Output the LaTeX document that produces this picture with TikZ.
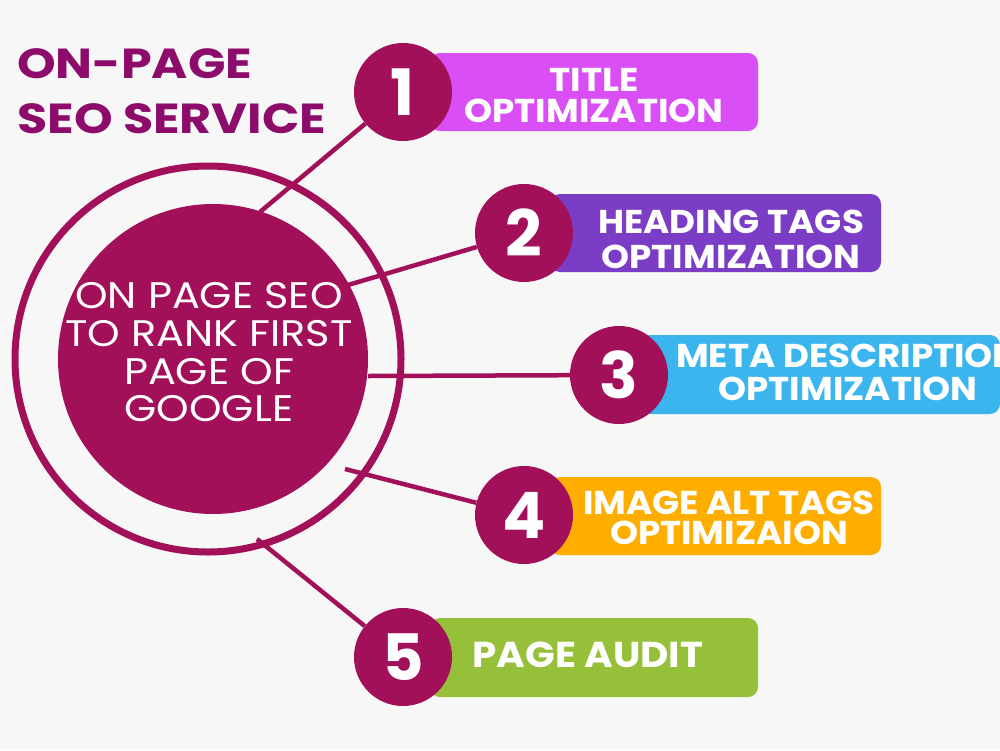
\documentclass[tikz,border=0pt]{standalone}
\usepackage{fontspec}
\setmainfont{Poppins}
\newfontfamily\titlefont{Poppins}[FakeStretch=1.17]
\newfontfamily\hubfont{Poppins}[FakeStretch=1.12]
\newfontfamily\barfont{Poppins}[FakeStretch=1.08]
\definecolor{bg}{HTML}{F7F7F7}
\definecolor{wine}{HTML}{A3105A}
\definecolor{titlec}{HTML}{8C0B6B}
\definecolor{c1}{HTML}{DA4FF5}
\definecolor{c2}{HTML}{7B3CC6}
\definecolor{c3}{HTML}{3BB5EE}
\definecolor{c4}{HTML}{FFAE00}
\definecolor{c5}{HTML}{96C03A}
\begin{document}
\begin{tikzpicture}[x=1pt,y=-1pt,
  numc/.style={circle, fill=wine, minimum size=98pt, inner sep=0pt, text=white,
    font=\fontsize{64}{64}\selectfont\bfseries},
  barshape/.style={rounded corners=10pt},
  bartext/.style={text=white, align=center, inner sep=0pt},
  link/.style={draw=wine, line width=4.5pt},
  titletext/.style={anchor=base west, text=titlec, inner sep=0pt,
    font=\titlefont\fontsize{42}{42}\selectfont\bfseries}]
\useasboundingbox (0,0) rectangle (1000,750);
\fill[bg] (0,0) rectangle (1000,750);

% title
\node[titletext] (title1) at (17,78) {ON-PAGE};
\node[titletext] (title2) at (17,133) {SEO SERVICE};

% ring and hub
\draw[wine, line width=7pt] (208,359) circle (193pt);
\node[circle, fill=wine, minimum size=310pt, inner sep=0pt] (hub) at (213,359) {};
\node[text=white, align=center, inner sep=0pt,
  font=\hubfont\fontsize{37}{37.7}\selectfont] (hubtext) at (209,352.5)
  {ON PAGE SEO\\TO RANK FIRST\\PAGE OF\\GOOGLE};

% bars
\fill[c1, barshape] (430,53) rectangle (758,131);
\fill[c2, barshape] (550,194) rectangle (881,272);
\fill[c3, barshape] (640,335) rectangle (1000,414);
\fill[c4, barshape] (550,477) rectangle (881,555);
\fill[c5, barshape] (430,618) rectangle (758,697);

% connector free ends
\coordinate (s1) at (260,212);
\coordinate (s2) at (348,285);
\coordinate (s3) at (368,376);
\coordinate (s4) at (345,469);
\coordinate (s5) at (257,539);

% number circles
\node[numc] (n1) at (403,92) {1};
\node[numc] (n2) at (524,233) {2};
\node[numc] (n3) at (619,375) {3};
\node[numc] (n4) at (524,515) {4};
\node[numc] (n5) at (403,657) {5};

% connectors
\draw[link] (s1) -- (n1);
\draw[link] (s2) -- (n2);
\draw[link] (s3) -- (n3);
\draw[link] (s4) -- (n4);
\draw[link] (s5) -- (n5);

% bar texts
\node[bartext, font=\barfont\fontsize{33}{31}\selectfont\bfseries] (t1) at (594,95.5) {TITLE\\OPTIMIZATION};
\node[bartext, font=\barfont\fontsize{33}{35}\selectfont\bfseries] (t2) at (731,239) {HEADING TAGS\\OPTIMIZATION};
\node[bartext, font=\barfont\fontsize{33}{33}\selectfont\bfseries] (t3) at (848,372.5) {META DESCRIPTION\\OPTIMIZATION};
\node[bartext, font=\barfont\fontsize{33}{30}\selectfont\bfseries] (t4) at (729,517.5) {IMAGE ALT TAGS\\OPTIMIZAION};
\node[bartext, font=\barfont\fontsize{36}{32}\selectfont\bfseries] (t5) at (588,654.5) {PAGE AUDIT};
\end{tikzpicture}
\end{document}
